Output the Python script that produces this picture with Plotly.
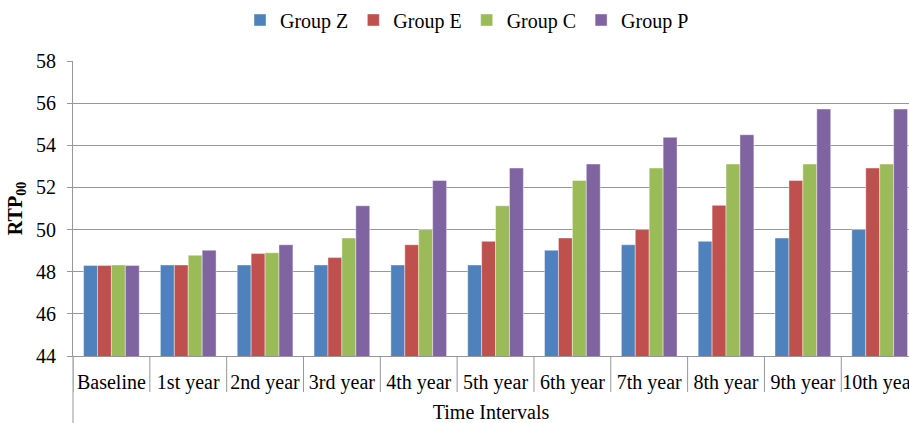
import plotly.graph_objects as go

intervals = ["Baseline", "1st year", "2nd year", "3rd year", "4th year", "5th year",
             "6th year", "7th year", "8th year", "9th year", "10th year"]
group_z = [48.3, 48.32, 48.32, 48.32, 48.32, 48.32, 49.02, 49.28, 49.44, 49.6, 50.0]
group_e = [48.3, 48.32, 48.86, 48.67, 49.28, 49.44, 49.6, 50.0, 51.15, 52.33, 52.92]
group_c = [48.32, 48.78, 48.9, 49.6, 50.0, 51.13, 52.33, 52.92, 53.11, 53.11, 53.11]
group_p = [48.3, 49.02, 49.28, 51.13, 52.33, 52.92, 53.11, 54.38, 54.5, 55.72, 55.72]

series = [
    ("Group Z", group_z, "#4F81BD"),
    ("Group E", group_e, "#C0504D"),
    ("Group C", group_c, "#9BBB59"),
    ("Group P", group_p, "#8064A2"),
]

FONT = "Liberation Serif, Times New Roman, serif"
GRID = "#979797"

fig = go.Figure()
for name, vals, color in series:
    fig.add_trace(go.Bar(
        name=name, x=intervals, y=vals,
        marker=dict(color=color, line=dict(color="rgba(255,255,255,0.7)", width=0.6)),
    ))

plot_w = 909 - 73
plot_h = 423 - 61 - 67

shapes = []
# category separators below the baseline
for i in range(len(intervals) + 1):
    shapes.append(dict(type="line", xref="x", yref="paper",
                       x0=i - 0.5, x1=i - 0.5, y0=0, y1=-36 / plot_h,
                       line=dict(color=GRID, width=1)))
# left axis line continues to the bottom edge
shapes.append(dict(type="line", xref="paper", yref="paper",
                   x0=0, x1=0, y0=0, y1=-67 / plot_h,
                   line=dict(color=GRID, width=1)))

fig.update_layout(
    width=909, height=423,
    margin=dict(l=73, r=0, t=61, b=67, autoexpand=False),
    paper_bgcolor="white", plot_bgcolor="white",
    barmode="group", bargap=0.275, bargroupgap=0,
    font=dict(family=FONT, color="black", size=20),
    showlegend=True,
    legend=dict(orientation="h", x=(240 - 73) / plot_w, xanchor="left",
                y=1 + 41 / plot_h, yanchor="middle", font=dict(size=20),
                traceorder="normal", itemwidth=30),
    xaxis=dict(
        range=[-0.5, -0.5 + (909 - 73.3) / 76.8],
        automargin=False,
        showgrid=False, showline=True, linecolor=GRID, linewidth=1,
        ticks="", ticklabelstandoff=8,
        tickfont=dict(size=20, family=FONT),
        title=dict(text="Time Intervals", font=dict(size=20, family=FONT), standoff=14),
        fixedrange=True,
    ),
    yaxis=dict(
        range=[44, 58], dtick=2, tick0=44,
        automargin=False,
        showgrid=True, gridcolor=GRID, gridwidth=1,
        showline=True, linecolor=GRID, linewidth=1,
        ticks="outside", ticklen=5, tickcolor=GRID,
        ticklabelstandoff=7,
        tickfont=dict(size=20, family=FONT),
        title=dict(text="<b>RTP<sub>00</sub></b>", font=dict(size=20, family=FONT), standoff=8),
        zeroline=False,
    ),
    shapes=shapes,
)

fig.write_html("out.html")
